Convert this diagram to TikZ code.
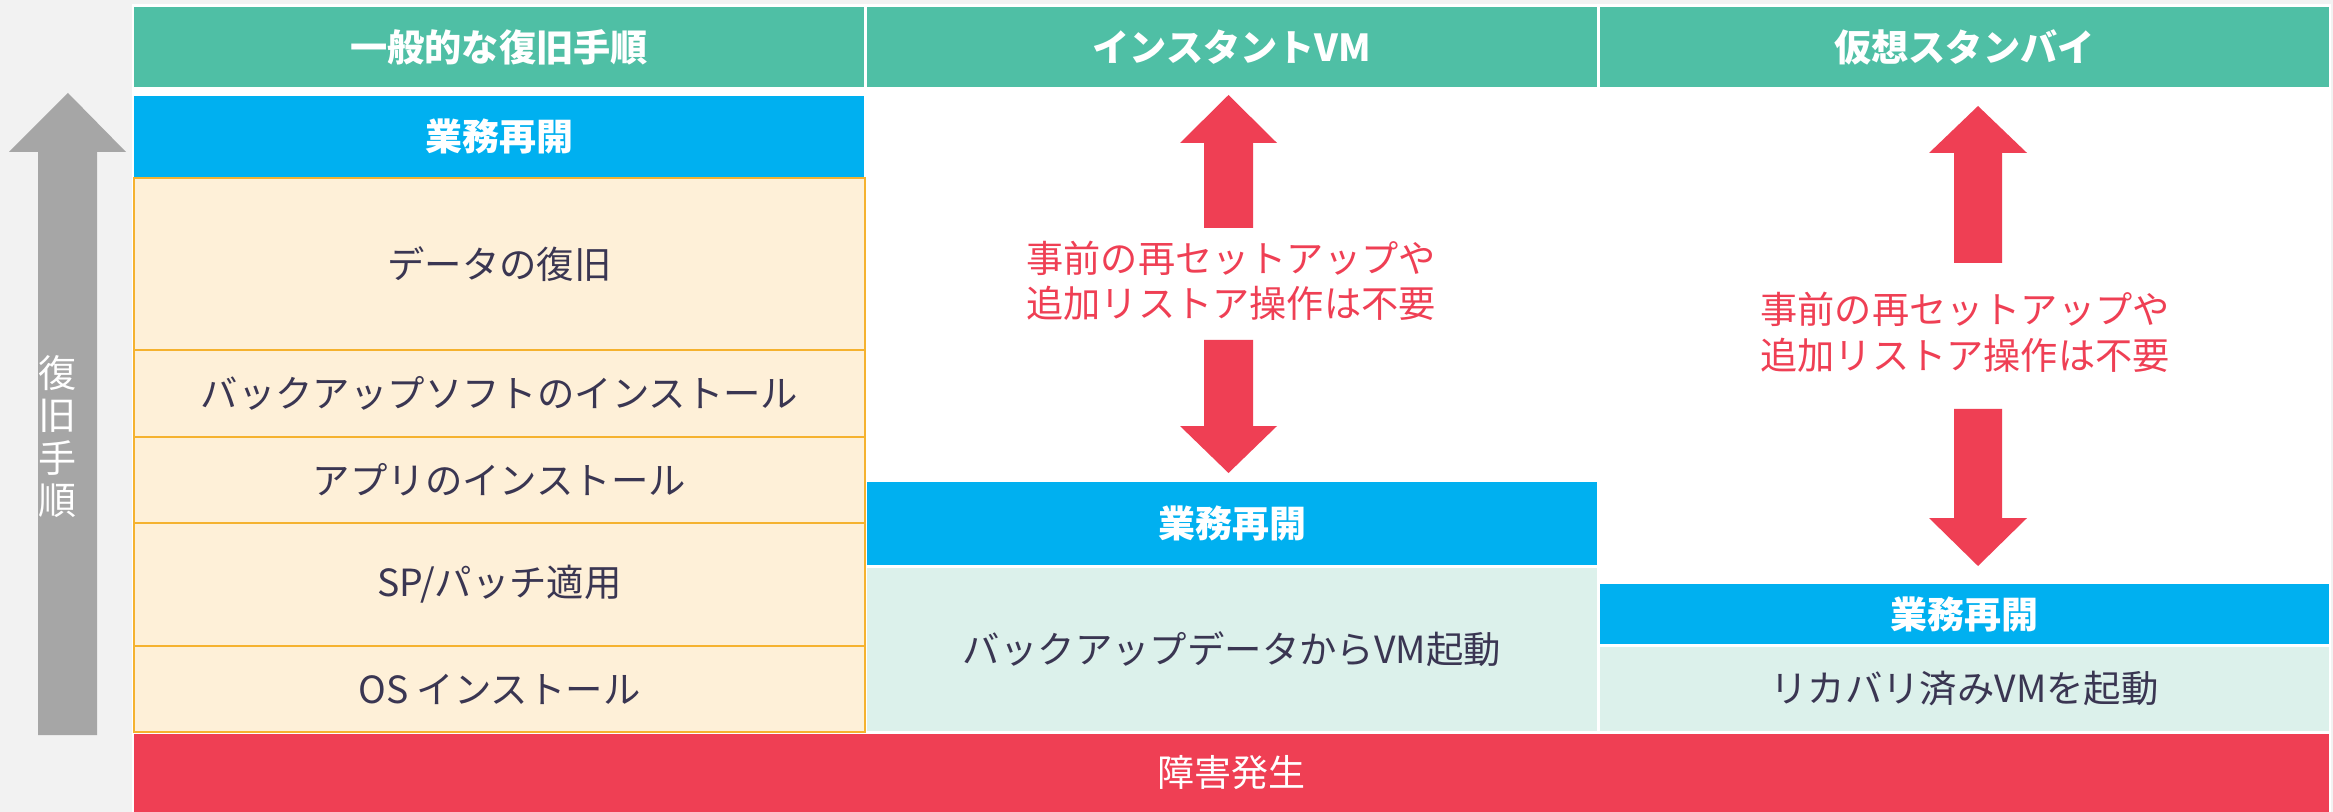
\documentclass[tikz,border=0pt]{standalone}
\usepackage{fontspec}
\setmainfont{Noto Sans CJK JP}
\definecolor{bgc}{HTML}{F2F2F2}
\definecolor{hdrc}{HTML}{4FBFA5}
\definecolor{bluec}{HTML}{00B0F0}
\definecolor{creamc}{HTML}{FEF0D8}
\definecolor{orangec}{HTML}{F5B22F}
\definecolor{tealc}{HTML}{DCF1EB}
\definecolor{redc}{HTML}{EF3F54}
\definecolor{grayc}{HTML}{A6A6A6}
\definecolor{txtc}{HTML}{3A3652}
\newcommand\bx[7]{\node[#6, minimum width={(#4-#2)*0.5pt}, minimum height={(#5-#3)*0.5pt}] (#1) at ({(#2+#4)/2},{(#3+#5)/2}) {#7};}
\tikzset{
  hdrbox/.style={fill=hdrc, text=white, font=\fontsize{18.6}{20}\selectfont\bfseries},
  resbox/.style={fill=bluec, text=white, font=\fontsize{18.5}{20}\selectfont\bfseries},
  stepbox/.style={fill=creamc, draw=orangec, line width=1.3pt, text=txtc, font=\fontsize{18.7}{20}\selectfont},
  vmbox/.style={fill=tealc, text=txtc, font=\fontsize{18.7}{20}\selectfont},
  failbox/.style={fill=redc, text=white, font=\fontsize{18.5}{20}\selectfont},
  note/.style={text=redc, align=center, font=\fontsize{18.6}{22.75}\selectfont},
  bigarrow/.style={fill=redc},
}
\begin{document}
\begin{tikzpicture}[x=0.5pt,y=-0.5pt, every node/.style={inner sep=0pt,outer sep=0pt}]
\useasboundingbox (0,0) rectangle (2333,812);
\fill[bgc] (0,0) rectangle (2333,812);
\fill[white] (132,4) rectangle (2331,812);
% gray process arrow
\fill[grayc] (68,93) -- (126,152) -- (97,152) -- (97,735) -- (38,735) -- (38,152) -- (9,152) -- cycle;
\node[text=white, align=center, font=\fontsize{19}{21.25}\selectfont] (proc) at (57,436.5) {復\\旧\\手\\順};
% headers
\bx{hdrL}{134}{7}{864}{87.5}{hdrbox}{一般的な復旧手順}
\bx{hdrM}{867}{7}{1597}{87.5}{hdrbox}{インスタントVM}
\bx{hdrR}{1600}{7}{2329}{87.5}{hdrbox}{仮想スタンバイ}
% left column
\bx{resL}{134}{96}{864}{177}{resbox}{業務再開}
\bx{s5}{134}{178}{865}{350}{stepbox}{データの復旧}
\bx{s4}{134}{350}{865}{437}{stepbox}{バックアップソフトのインストール}
\bx{s3}{134}{437}{865}{523}{stepbox}{アプリのインストール}
\bx{s2}{134}{523}{865}{646}{stepbox}{SP/パッチ適用}
\bx{s1}{134}{646}{865}{732}{stepbox}{OS インストール}
% middle column
\bx{resM}{867}{482}{1597}{565}{resbox}{業務再開}
\bx{vmM}{867}{568}{1597}{731}{vmbox}{バックアップデータからVM起動}
% right column
\bx{resR}{1600}{584}{2329}{644}{resbox}{業務再開}
\bx{vmR}{1600}{646.5}{2329}{731}{vmbox}{リカバリ済みVMを起動}
% failure
\bx{fail}{134}{733.5}{2329}{812}{failbox}{障害発生}
% notes
\node[note] (noteM) at (1231,281) {事前の再セットアップや\\追加リストア操作は不要};
\node[note] (noteR) at (1965,332.5) {事前の再セットアップや\\追加リストア操作は不要};
% red block arrows (middle)
\fill[bigarrow] (1228.5,95) -- (1277,143) -- (1253,143) -- (1253,228) -- (1204,228) -- (1204,143) -- (1180,143) -- cycle;
\fill[bigarrow] (1204,340) -- (1253,340) -- (1253,426) -- (1277,426) -- (1228.5,473) -- (1180,426) -- (1204,426) -- cycle;
% red block arrows (right)
\fill[bigarrow] (1978,106) -- (2027,153) -- (2002,153) -- (2002,263) -- (1954,263) -- (1954,153) -- (1929,153) -- cycle;
\fill[bigarrow] (1954,409) -- (2002,409) -- (2002,518) -- (2027,518) -- (1978,566) -- (1929,518) -- (1954,518) -- cycle;
\end{tikzpicture}
\end{document}
